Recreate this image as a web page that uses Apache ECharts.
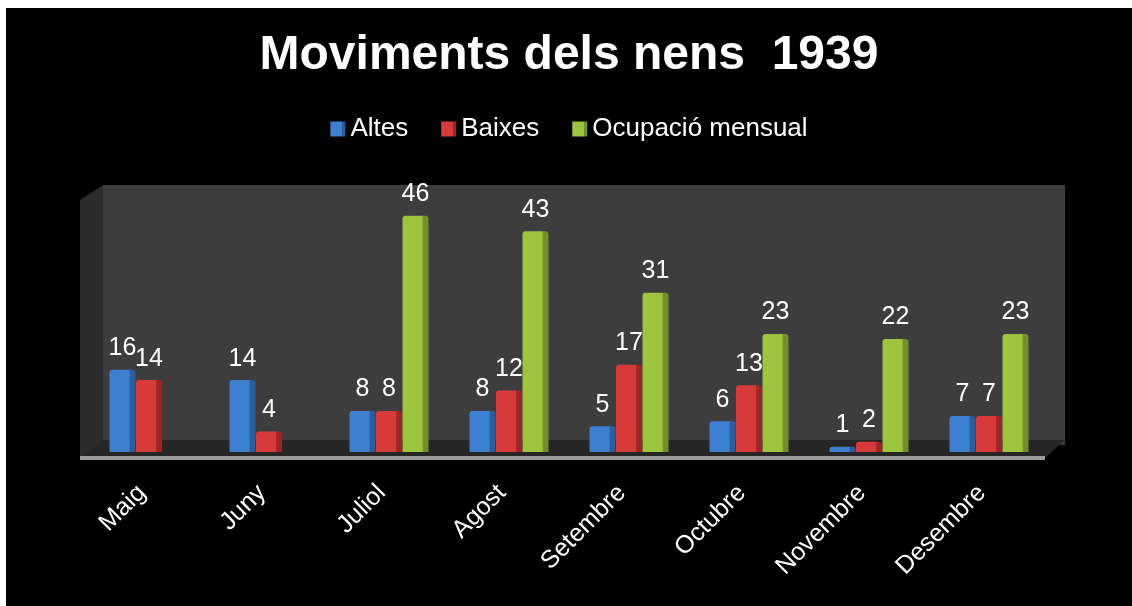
<!DOCTYPE html>
<html>
<head>
<meta charset="utf-8">
<script src="https://cdn.jsdelivr.net/npm/echarts@6/dist/echarts.min.js"></script>
<style>
  html, body { margin: 0; padding: 0; background: #fff; }
  #chart { position: absolute; left: 6px; top: 8px; width: 1126px; height: 598px; background: #000; }
</style>
</head>
<body>
<div id="chart"></div>
<script>
const months = ['Maig', 'Juny', 'Juliol', 'Agost', 'Setembre', 'Octubre', 'Novembre', 'Desembre'];
const altes = [16, 14, 8, 8, 5, 6, 1, 7];
const baixes = [14, 4, 8, 12, 17, 13, 2, 7];
const ocupacio = [null, null, 46, 43, 31, 23, 22, 23];

const chart = echarts.init(document.getElementById('chart'));

// horizontal gradient gives the bars a bit of a 3D look
const barFill = (light, dark) => new echarts.graphic.LinearGradient(0, 0, 1, 0, [
    { offset: 0, color: light },
    { offset: 0.75, color: light },
    { offset: 0.8, color: dark },
    { offset: 1, color: dark }
]);

const labelStyle = {
    show: true,
    position: 'top',
    distance: 9,
    color: '#fff',
    fontSize: 25,
    fontFamily: 'Liberation Sans'
};

const option = {
    backgroundColor: '#000',
    title: {
        text: 'Moviments dels nens  1939',
        left: 'center',
        top: 19,
        textStyle: { color: '#fff', fontSize: 48, fontWeight: 'bold', fontFamily: 'Liberation Sans' }
    },
    legend: {
        top: 103,
        left: 'center',
        icon: 'rect',
        itemWidth: 15,
        itemHeight: 15,
        itemGap: 33,
        textStyle: { color: '#fff', fontSize: 26, fontFamily: 'Liberation Sans' }
    },
    // back wall, side wall and floor of the 3D box
    graphic: [
        { type: 'rect', z: -10, shape: { x: 97, y: 177, width: 962, height: 260 }, style: { fill: '#3d3d3d' } },
        { type: 'polygon', z: -10, shape: { points: [[74, 192], [97, 177], [97, 436], [74, 450]] }, style: { fill: '#2b2b2b' } },
        { type: 'polygon', z: -9, shape: { points: [[74, 450], [97, 432], [1059, 432], [1039, 450]] }, style: { fill: '#262626' } },
        { type: 'polygon', z: -9, shape: { points: [[74, 448], [1039, 448], [1039, 452], [74, 452]] }, style: { fill: '#9a9a9a' } }
    ],
    grid: { left: 83, right: 83, top: 177, bottom: 154 },
    xAxis: {
        type: 'category',
        data: months,
        axisLine: { show: false },
        axisTick: { show: false },
        axisLabel: {
            color: '#fff', fontSize: 25, fontFamily: 'Liberation Sans',
            rotate: 45, margin: 30, padding: [0, 10, 0, 0]
        }
    },
    yAxis: {
        type: 'value',
        min: 0,
        max: 52,
        show: false,
        splitLine: { show: false }
    },
    series: [
        {
            name: 'Altes',
            type: 'bar',
            barWidth: 26,
            barGap: '2%',
            itemStyle: { color: barFill('#3d7fd0', '#2a5c9e'), borderRadius: [3, 3, 0, 0] },
            label: labelStyle,
            data: altes
        },
        {
            name: 'Baixes',
            type: 'bar',
            barWidth: 26,
            barGap: '2%',
            itemStyle: { color: barFill('#d63a3a', '#9e2626'), borderRadius: [3, 3, 0, 0] },
            label: labelStyle,
            data: baixes
        },
        {
            name: 'Ocupació mensual',
            type: 'bar',
            barWidth: 26,
            barGap: '2%',
            itemStyle: { color: barFill('#9cc43e', '#6f9127'), borderRadius: [3, 3, 0, 0] },
            label: labelStyle,
            data: ocupacio
        }
    ]
};

chart.setOption(option);
window.addEventListener('resize', () => chart.resize());
</script>
</body>
</html>
